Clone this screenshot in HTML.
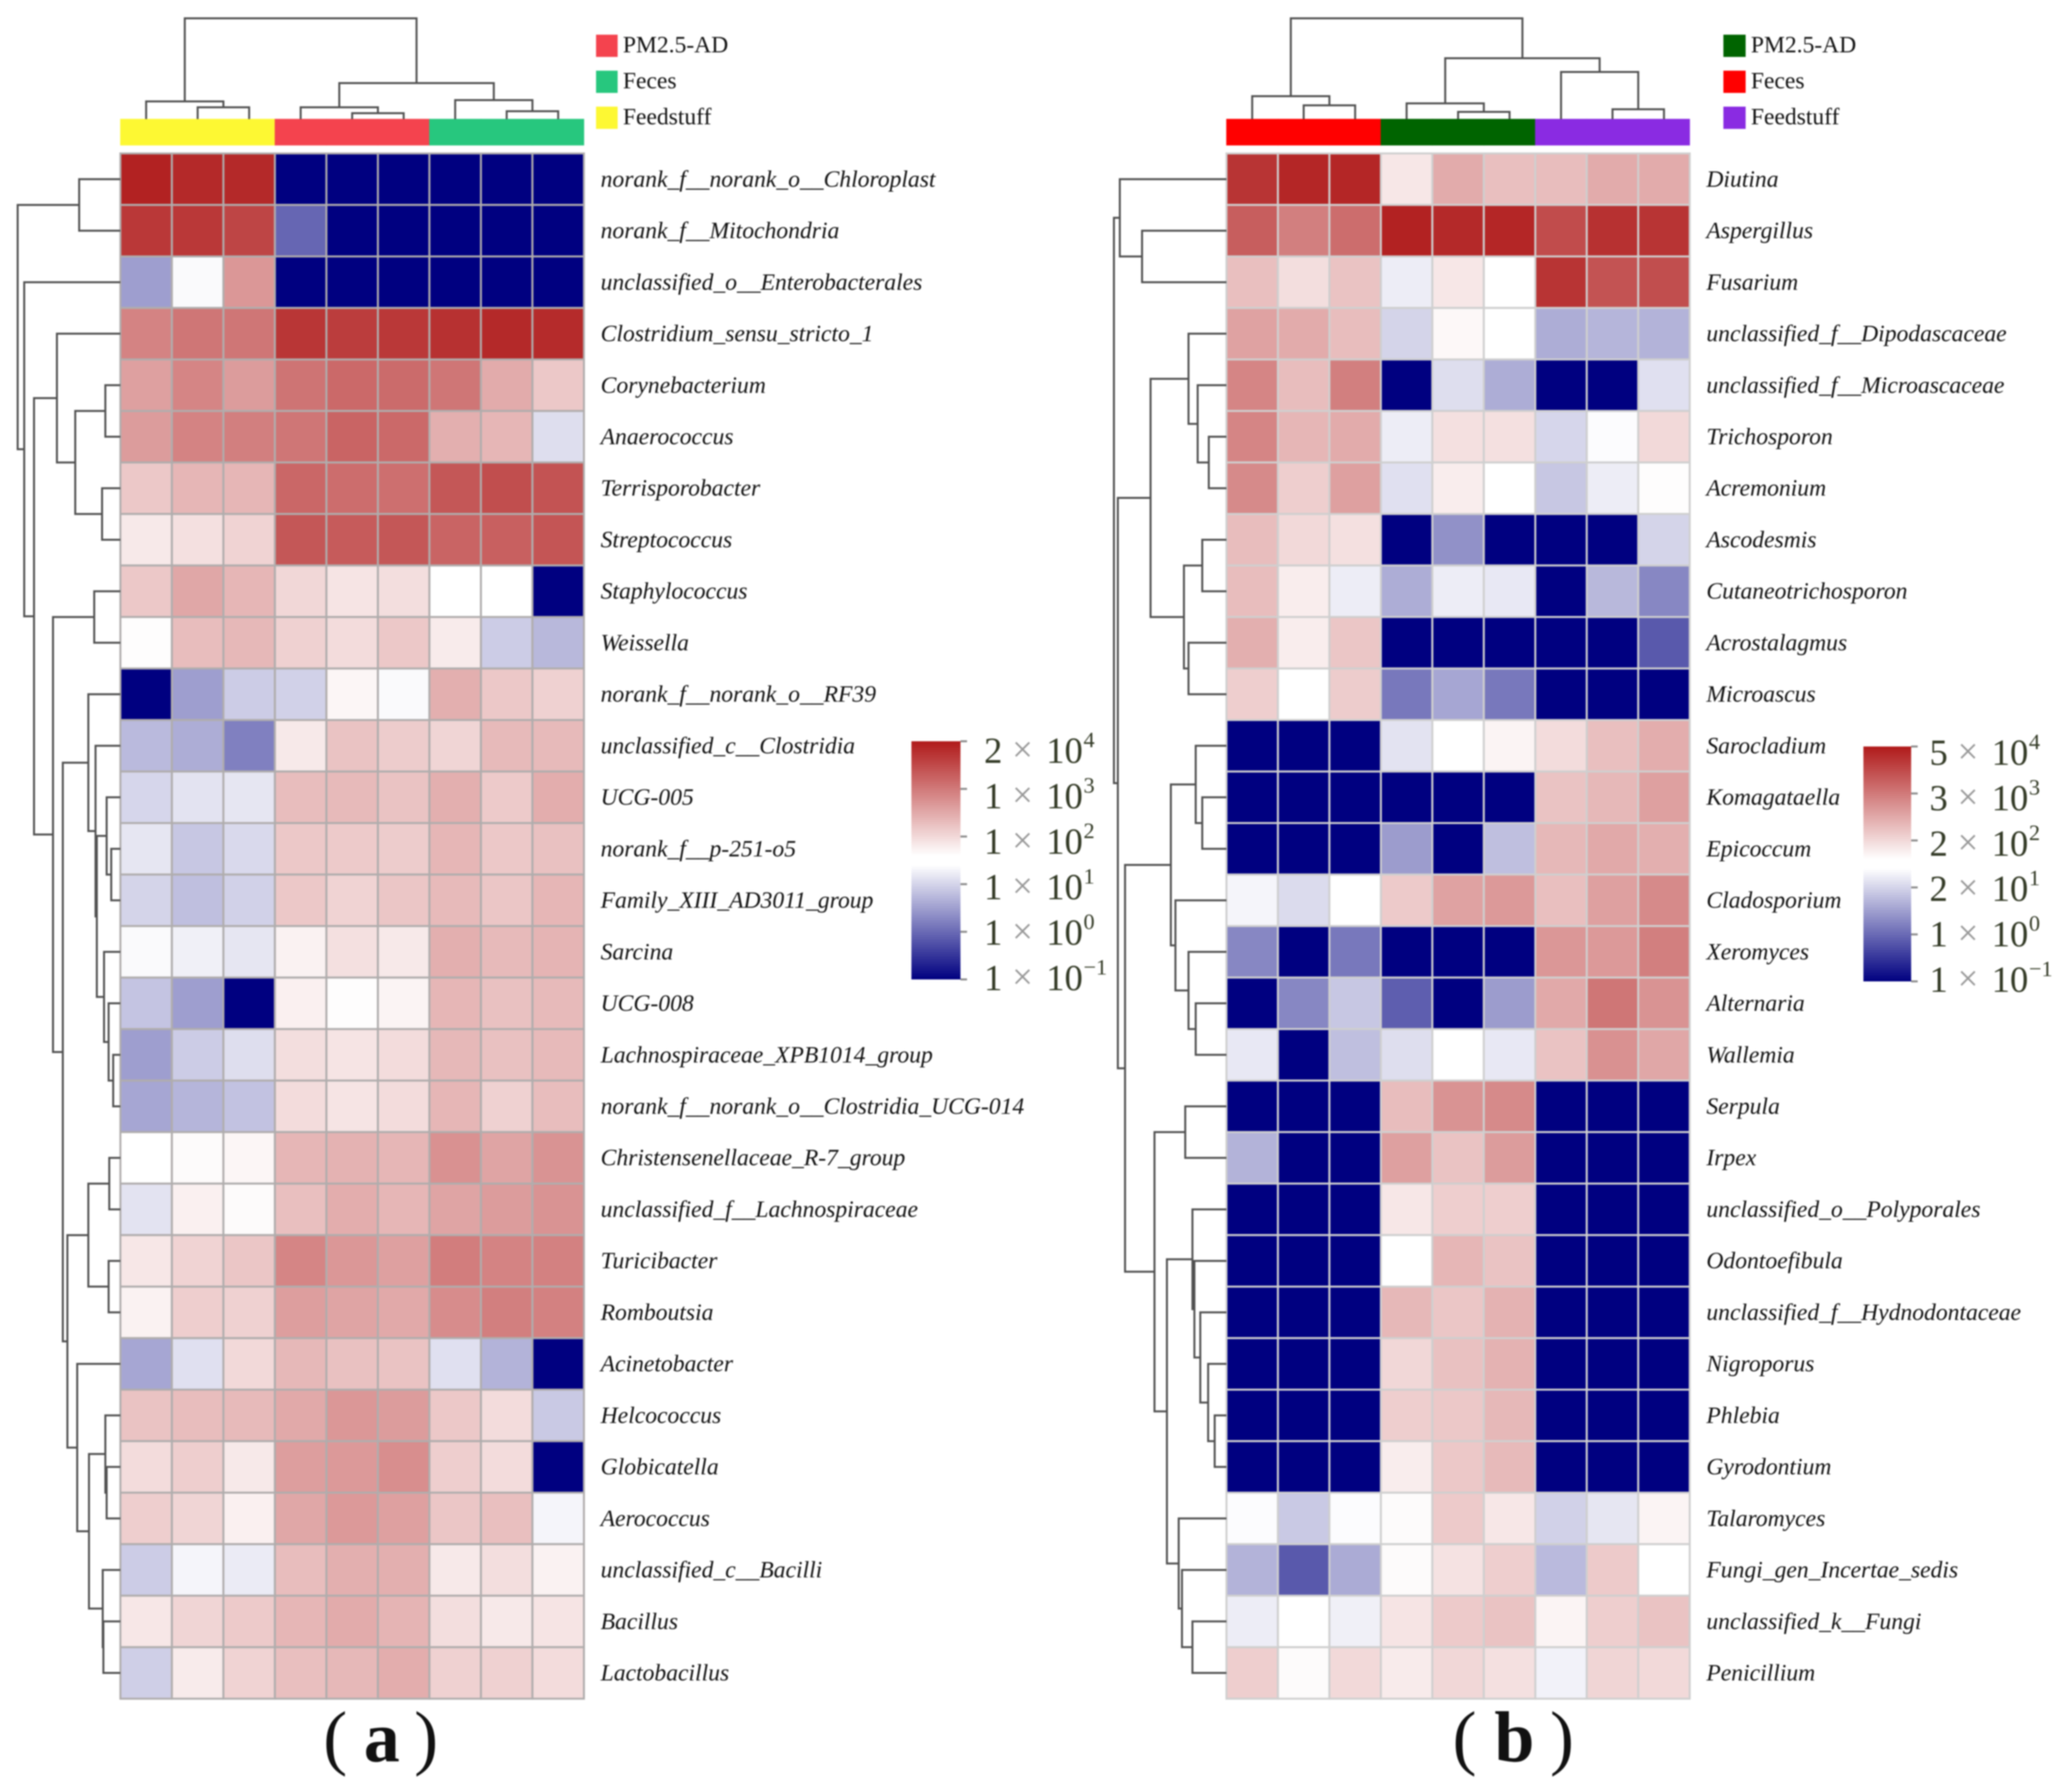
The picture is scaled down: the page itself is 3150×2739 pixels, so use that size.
<!DOCTYPE html>
<html lang="en">
<head>
<meta charset="utf-8">
<title>Heatmaps of bacterial and fungal genera</title>
<style>
html,body{margin:0;padding:0;background:#fff;}
svg{display:block;filter:blur(1px);}
text{font-family:"Liberation Serif","Noto Serif CJK SC",serif;}
</style>
</head>
<body>
<svg id="figure" xmlns="http://www.w3.org/2000/svg" width="3150" height="2739" viewBox="0 0 3150 2739">
  <rect x="0" y="0" width="3150" height="2739" fill="#ffffff"/>
  <defs>
    <linearGradient id="scaleGrad" x1="0" y1="0" x2="0" y2="1">
      <stop offset="0" stop-color="#b01a1a"/>
      <stop offset="0.48" stop-color="#ffffff"/>
      <stop offset="0.52" stop-color="#ffffff"/>
      <stop offset="1" stop-color="#000080"/>
    </linearGradient>
  </defs>
  <g id="panelA"></g>
  <g id="panelB"></g>
  <text y="2692" font-size="110" fill="#111"><tspan x="494">(</tspan><tspan x="556" font-weight="bold">a</tspan><tspan x="633">)</tspan></text>
  <text y="2692" font-size="110" fill="#111"><tspan x="2220">(</tspan><tspan x="2284" font-weight="bold">b</tspan><tspan x="2369">)</tspan></text>
</svg>
<script>
// Row labels (genera), top to bottom
const generaA = ["norank_f__norank_o__Chloroplast","norank_f__Mitochondria","unclassified_o__Enterobacterales","Clostridium_sensu_stricto_1","Corynebacterium","Anaerococcus","Terrisporobacter","Streptococcus","Staphylococcus","Weissella","norank_f__norank_o__RF39","unclassified_c__Clostridia","UCG-005","norank_f__p-251-o5","Family_XIII_AD3011_group","Sarcina","UCG-008","Lachnospiraceae_XPB1014_group","norank_f__norank_o__Clostridia_UCG-014","Christensenellaceae_R-7_group","unclassified_f__Lachnospiraceae","Turicibacter","Romboutsia","Acinetobacter","Helcococcus","Globicatella","Aerococcus","unclassified_c__Bacilli","Bacillus","Lactobacillus"];
const generaB = ["Diutina","Aspergillus","Fusarium","unclassified_f__Dipodascaceae","unclassified_f__Microascaceae","Trichosporon","Acremonium","Ascodesmis","Cutaneotrichosporon","Acrostalagmus","Microascus","Sarocladium","Komagataella","Epicoccum","Cladosporium","Xeromyces","Alternaria","Wallemia","Serpula","Irpex","unclassified_o__Polyporales","Odontoefibula","unclassified_f__Hydnodontaceae","Nigroporus","Phlebia","Gyrodontium","Talaromyces","Fungi_gen_Incertae_sedis","unclassified_k__Fungi","Penicillium"];

// Colour-scale position per cell: -100 = bottom of legend, 0 = white, 100 = top of legend
const valuesA = [
[100,97,97,-100,-100,-100,-100,-100,-100],
[90,90,84,-60,-100,-100,-100,-100,-100],
[-38,-2,47,-100,-100,-100,-100,-100,-100],
[56,62,62,91,88,90,93,97,96],
[43,55,45,63,68,67,62,38,25],
[45,56,58,62,70,68,36,33,-13],
[25,33,33,69,66,65,76,80,78],
[10,14,20,76,74,76,70,72,77],
[25,40,33,18,12,15,0,0,-100],
[1,30,32,21,16,25,9,-20,-28],
[-100,-38,-20,-18,4,-2,36,25,21],
[-27,-32,-50,10,27,23,19,31,31],
[-16,-11,-10,30,31,27,36,24,37],
[-10,-22,-15,25,24,23,33,25,28],
[-17,-25,-18,25,20,26,31,26,33],
[-2,-6,-10,6,14,10,36,31,34],
[-23,-38,-100,7,1,5,33,28,31],
[-38,-20,-13,15,12,16,32,28,31],
[-35,-29,-24,16,12,16,33,21,30],
[0,2,4,33,35,33,50,41,49],
[-11,7,2,29,37,33,41,45,49],
[11,20,26,55,47,43,59,56,57],
[6,22,21,44,41,39,52,58,57],
[-35,-12,17,32,28,27,-12,-30,-100],
[27,30,31,39,47,45,25,16,-21],
[16,22,10,44,46,51,22,16,-100],
[22,19,7,40,46,43,26,29,-4],
[-20,-4,-8,30,36,36,10,15,6],
[11,19,24,33,38,34,15,10,12],
[-19,9,20,29,32,37,21,21,16]
];
const valuesB = [
[92,98,98,11,38,29,30,38,38],
[73,58,66,100,97,98,81,93,92],
[29,15,27,-7,11,0,92,78,80],
[42,38,30,-17,3,0,-32,-29,-30],
[55,30,58,-100,-13,-32,-100,-100,-12],
[55,33,38,-7,14,14,-16,-1,17],
[53,22,43,-12,8,0,-22,-7,1],
[30,17,14,-100,-43,-100,-100,-100,-17],
[30,8,-7,-32,-7,-9,-100,-28,-47],
[36,8,26,-100,-100,-100,-100,-100,-65],
[22,0,23,-53,-35,-53,-100,-100,-100],
[-100,-100,-100,-11,0,5,16,29,37],
[-100,-100,-100,-100,-100,-100,27,32,43],
[-100,-100,-100,-39,-100,-25,32,39,36],
[-4,-14,0,24,42,46,29,43,53],
[-47,-100,-53,-100,-100,-100,47,46,58],
[-100,-47,-22,-63,-100,-39,39,62,49],
[-9,-100,-25,-13,0,-9,27,50,40],
[-100,-100,-100,30,49,53,-100,-100,-100],
[-30,-100,-100,43,27,45,-100,-100,-100],
[-100,-100,-100,11,22,22,-100,-100,-100],
[-100,-100,-100,0,33,27,-100,-100,-100],
[-100,-100,-100,32,26,35,-100,-100,-100],
[-100,-100,-100,18,28,35,-100,-100,-100],
[-100,-100,-100,22,25,32,-100,-100,-100],
[-100,-100,-100,8,25,31,-100,-100,-100],
[-1,-21,-1,2,24,11,-18,-10,5],
[-30,-65,-33,2,13,22,-27,24,0],
[-7,0,-6,12,24,27,5,22,27],
[22,2,17,9,18,14,-5,19,17]
];

// Column group annotation
const columnGroupsA = ["Feedstuff","Feedstuff","Feedstuff","PM2.5-AD","PM2.5-AD","PM2.5-AD","Feces","Feces","Feces"];
const columnGroupsB = ["Feces","Feces","Feces","PM2.5-AD","PM2.5-AD","PM2.5-AD","Feedstuff","Feedstuff","Feedstuff"];
const legendGroups = ["PM2.5-AD","Feces","Feedstuff"];
const groupColoursA = {"PM2.5-AD":"#f4434e","Feces":"#27c77e","Feedstuff":"#fdf833"};
const groupColoursB = {"PM2.5-AD":"#006400","Feces":"#ff0000","Feedstuff":"#8a2be2"};

// Colour-bar tick labels, top to bottom: [mantissa, exponent]
const scaleMantissaA = ["2","1","1","1","1","1"];
const scaleMantissaB = ["5","3","2","2","1","1"];
const scaleExponents = ["4","3","2","1","0","\u22121"];

// Dendrograms: [mergeHeight, left, right]; 0 marks a leaf (next row / column in order)
const rowTreeA = [157,[63,0,0],[147,0,[132,[97,0,[69,[23,0,0],[28,0,0]]],[103,[40,0,0],[88,[49,0,[38,0,[36,[21,0,[14,0,0]],[25,0,[18,0,[11,0,0]]]]]],[81,[49,[17,0,0],[18,0,0]],[66,0,[48,[23,0,[21,0,0]],[27,0,[26,0,0]]]]]]]]]];
const rowTreeB = [172,[163,0,[129,0,0]],[166,[116,[58,0,[44,0,[27,0,0]]],[65,[37,0,0],[58,0,0]]],[155,[85,[47,0,[37,0,0]],[78,0,[58,0,[47,0,0]]]],[110,[63,0,0],[91,[52,0,[49,0,[40,0,[28,0,[18,0,0]]]]],[73,0,[68,0,[52,0,0]]]]]]]];
const colTreeA = [154,[27,0,[18,0,0]],[55,[18,0,[9,0,0]],[29,0,[12,0,0]]]];
const colTreeB = [154,[35,0,[21,0,0]],[93,[24,0,[11,0,0]],[72,0,[15,0,0]]]];

const SVGNS = "http://www.w3.org/2000/svg";
function make(tag, parent, attrs) {
  const el = document.createElementNS(SVGNS, tag);
  for (const k in attrs) el.setAttribute(k, attrs[k]);
  parent.appendChild(el);
  return el;
}
function colourScale(v) {
  const t = Math.max(-1, Math.min(1, v / 100));
  const hi = [178, 34, 34], lo = [0, 0, 128];
  const end = t >= 0 ? hi : lo;
  const a = Math.abs(t);
  const c = end.map(e => Math.round(255 + (e - 255) * a));
  return "rgb(" + c.join(",") + ")";
}

function drawPanel(cfg) {
  const root = document.getElementById(cfg.id);
  const cw = cfg.cw, ch = 78.73, top = 234.5;
  const xScale = c => cfg.x0 + c * cw;
  const yScale = r => top + r * ch;

  // heatmap cells
  const gHeat = make("g", root, {});
  
  
  cfg.values.forEach((row, r) => {
    row.forEach((v, c) => {
      const cell = make("rect", gHeat, {x: xScale(c), y: yScale(r), width: cw, height: ch, fill: colourScale(v), stroke: cfg.grid, "stroke-width": 3});
      
      
    });
  });

  // row labels
  cfg.rows.forEach((name, r) => {
    const t = make("text", root, {x: cfg.labelX, y: yScale(r + 0.5) + 11.5, "font-size": 36.1, "font-style": "italic", fill: "#111111"});
    t.textContent = name;
    
    
  });

  // annotation bar
  cfg.groups.forEach((g, c) => {
    const seg = make("rect", root, {x: xScale(c), y: 182, width: cw, height: 40, fill: cfg.colours[g], stroke: cfg.colours[g], "stroke-width": 0.6});
    
    
  });

  // group legend
  legendGroups.forEach((g, i) => {
    const sy = 53 + i * 55;
    const sw = make("rect", root, {x: cfg.legendX, y: sy, width: cfg.legendW, height: 34, fill: cfg.colours[g]});
    
    
    const t = make("text", root, {x: cfg.legendX + cfg.legendW + 8, y: sy + 27, "font-size": 36, fill: "#111111"});
    t.textContent = g;
    
    
  });

  // dendrograms
  const lineStyle = {fill: "none", stroke: "#505050", "stroke-width": 3};
  let leaf = 0;
  const heightX = h => cfg.x0 - h;
  function rowNode(n) {
    if (n === 0) { const y = yScale(leaf + 0.5); leaf++; return {pos: y, h: 0}; }
    const a = rowNode(n[1]), b = rowNode(n[2]);
    const x = heightX(n[0]);
    const p = make("path", root, Object.assign({d: "M" + heightX(a.h) + " " + a.pos + "H" + x + "V" + b.pos + "H" + heightX(b.h)}, lineStyle));
    
    
    return {pos: (a.pos + b.pos) / 2, h: n[0]};
  }
  rowNode(cfg.rowTree);
  leaf = 0;
  const barTop = 182;
  const heightY = h => barTop - h;
  function colNode(n) {
    if (n === 0) { const x = xScale(leaf + 0.5); leaf++; return {pos: x, h: 0}; }
    const a = colNode(n[1]), b = colNode(n[2]);
    const y = heightY(n[0]);
    const p = make("path", root, Object.assign({d: "M" + a.pos + " " + heightY(a.h) + "V" + y + "H" + b.pos + "V" + heightY(b.h)}, lineStyle));
    
    
    return {pos: (a.pos + b.pos) / 2, h: n[0]};
  }
  colNode(cfg.colTree);

  // colour bar
  const bar = make("rect", root, {x: cfg.barX, y: cfg.barTop, width: cfg.barW, height: cfg.barH, fill: "url(#scaleGrad)"});
  
  
  const tickY = i => cfg.barTop + i * cfg.barH / (scaleExponents.length - 1);
  const labelY = i => cfg.labelTop + i * cfg.labelStep;
  scaleExponents.forEach((ex, i) => {
    const y = tickY(i);
    const tick = make("line", root, {x1: cfg.barX + cfg.barW, x2: cfg.barX + cfg.barW + 10, y1: y, y2: y, stroke: "#8a8a8a", "stroke-width": 3});
    
    
    const base = labelY(i);
    const lab = make("text", root, {y: base, "font-size": 56, fill: "#333a26"});
    
    
    const m = make("tspan", lab, {x: cfg.labelDigitX});
    m.textContent = cfg.mantissa[i];
    const times = make("tspan", lab, {x: cfg.labelDigitX + 43, fill: "#999999", "font-size": 56, y: base - 2});
    times.textContent = "\u00d7";
    const ten = make("tspan", lab, {x: cfg.labelDigitX + 95, y: base});
    ten.textContent = "10";
    const sup = make("tspan", lab, {x: cfg.labelDigitX + 152, y: base - 24, "font-size": 34});
    sup.textContent = ex;
  });
}

drawPanel({id: "panelA", x0: 184, cw: 78.72, rows: generaA, values: valuesA, groups: columnGroupsA, colours: groupColoursA, grid: "#b0adad", labelX: 918, legendX: 911, legendW: 33, rowTree: rowTreeA, colTree: colTreeA, barX: 1393, barW: 75, barTop: 1133, barH: 364, labelTop: 1166, labelStep: 69.5, labelDigitX: 1504, mantissa: scaleMantissaA});
drawPanel({id: "panelB", x0: 1874.5, cw: 78.67, rows: generaB, values: valuesB, groups: columnGroupsB, colours: groupColoursB, grid: "#cfcfcf", labelX: 2608, legendX: 2634, legendW: 34, rowTree: rowTreeB, colTree: colTreeB, barX: 2848, barW: 73, barTop: 1141, barH: 359, labelTop: 1169, labelStep: 69.4, labelDigitX: 2949, mantissa: scaleMantissaB});
</script>
</body>
</html>
